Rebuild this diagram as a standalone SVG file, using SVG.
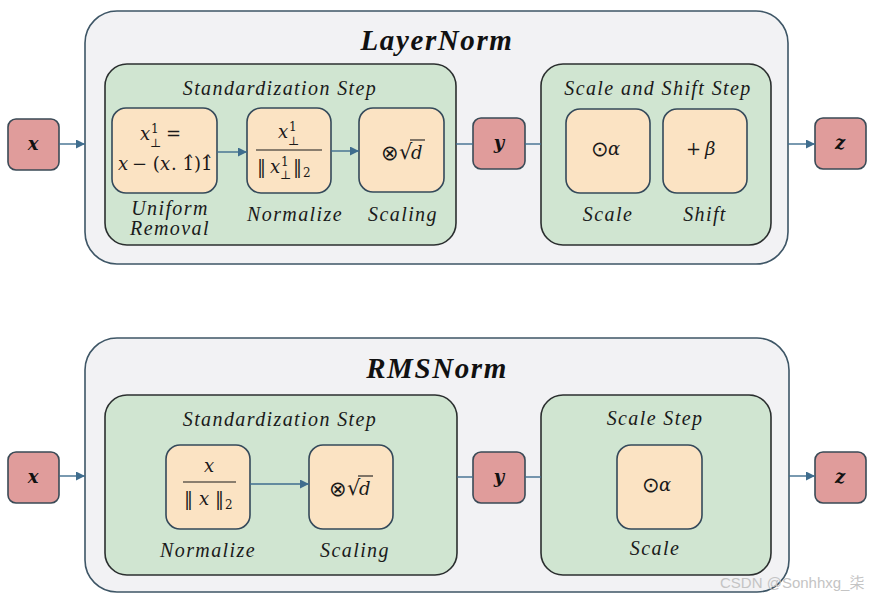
<svg xmlns="http://www.w3.org/2000/svg" width="875" height="599" viewBox="0 0 875 599">
<defs>
<style>
.outer{fill:#f2f2f4;stroke:#3e5666;stroke-width:1.6}
.step{fill:#d0e5d1;stroke:#2b2f2f;stroke-width:1.6}
.op{fill:#fbe3c3;stroke:#34495a;stroke-width:1.6}
.io{fill:#e09c9b;stroke:#3a4a56;stroke-width:1.6}
.conn{stroke:#3f6d8e;stroke-width:1.4;fill:none}
.title{font-family:"Liberation Serif","DejaVu Serif",serif;font-style:italic;font-weight:bold;font-size:29px;fill:#111;text-anchor:middle;letter-spacing:1.6px}
.lbl{font-family:"Liberation Serif","DejaVu Serif",serif;font-style:italic;font-size:20px;fill:#1a1a1a;text-anchor:middle;letter-spacing:1.4px}
.m{font-family:"DejaVu Serif","Liberation Serif",serif;font-size:18px;fill:#1a1a1a}
.mi{font-family:"DejaVu Serif","Liberation Serif",serif;font-style:italic;font-size:18px;fill:#1a1a1a}
.sym{font-family:"DejaVu Sans",sans-serif;font-size:21px;fill:#1a1a1a}
.s{font-family:"DejaVu Serif","Liberation Serif",serif;font-size:12px;fill:#1a1a1a}
.iov{font-family:"DejaVu Serif","Liberation Serif",serif;font-style:italic;font-weight:bold;font-size:18px;fill:#111;text-anchor:middle}
.fl{stroke:#1a1a1a;stroke-width:1.1}
.wm{font-family:"Liberation Sans","Noto Sans CJK SC",sans-serif;font-size:15px;fill:#c4c4c4}
</style>
<marker id="arr" viewBox="0 0 10 10" refX="10" refY="5" markerWidth="9" markerHeight="9" markerUnits="userSpaceOnUse" orient="auto">
<path d="M0,0 L10,5 L0,10 z" fill="#3f6d8e"/>
</marker>
</defs>

<!-- ===== LayerNorm ===== -->
<g id="layernorm">
<rect class="outer" x="85" y="11" width="703" height="253" rx="32"/>
<text class="title" x="437" y="50">LayerNorm</text>
</g>
<g id="ln-std">
<rect class="step" x="105" y="64" width="351" height="181" rx="22"/>
<text class="lbl" x="280" y="95">Standardization Step</text>
</g>
<g id="ln-uniform">
<rect class="op" x="112" y="108" width="105" height="85" rx="14"/>
<text class="mi" x="140" y="140">x</text>
<text class="s" x="151" y="133">1</text>
<text class="s" x="150" y="147">⊥</text>
<text class="m" x="166" y="140">=</text>
<text class="mi" x="118" y="170">x</text>
<text class="m" x="132" y="170">− (</text>
<text class="mi" x="160" y="170">x</text>
<text class="m" x="171" y="170">. 1̂)1̂</text>
<text class="lbl" x="170" y="215">Uniform</text>
<text class="lbl" x="170" y="235">Removal</text>
</g>
<g id="ln-normalize">
<rect class="op" x="247" y="108" width="84" height="85" rx="14"/>
<text class="mi" x="278" y="138">x</text>
<text class="s" x="289" y="131">1</text>
<text class="s" x="288" y="145">⊥</text>
<line class="fl" x1="256" y1="150" x2="322" y2="150"/>
<text class="m" x="257" y="173">‖</text>
<text class="mi" x="270" y="173">x</text>
<text class="s" x="281" y="166">1</text>
<text class="s" x="280" y="179">⊥</text>
<text class="m" x="293" y="173">‖</text>
<text class="s" x="303" y="177">2</text>
<text class="lbl" x="295" y="221">Normalize</text>
</g>
<g id="ln-scaling">
<rect class="op" x="359" y="108" width="85" height="84" rx="14"/>
<text class="sym" x="381" y="160">⊗</text>
<text class="sym" x="399" y="159">√</text>
<text class="mi" x="411" y="159">d</text>
<line class="fl" x1="410" y1="140" x2="425" y2="140"/>
<text class="lbl" x="403" y="221">Scaling</text>
</g>
<g id="ln-scaleshift">
<rect class="step" x="541" y="64" width="230" height="181" rx="22"/>
<text class="lbl" x="658" y="95">Scale and Shift Step</text>
</g>
<g id="ln-scale">
<rect class="op" x="566" y="109" width="84" height="84" rx="14"/>
<text class="sym" x="591" y="156">⊙</text>
<text class="mi" x="608" y="155">α</text>
<text class="lbl" x="608" y="221">Scale</text>
</g>
<g id="ln-shift">
<rect class="op" x="663" y="109" width="84" height="84" rx="14"/>
<text class="m" x="686" y="155">+</text>
<text class="mi" x="705" y="155">β</text>
<text class="lbl" x="705" y="221">Shift</text>
</g>
<g id="ln-x">
<rect class="io" x="8" y="119" width="51" height="51" rx="8"/>
<text class="iov" x="33" y="150">x</text>
</g>
<g id="ln-y">
<rect class="io" x="473" y="118" width="52" height="51" rx="8"/>
<text class="iov" x="499" y="149">y</text>
</g>
<g id="ln-z">
<rect class="io" x="815" y="118" width="51" height="51" rx="8"/>
<text class="iov" x="840" y="149">z</text>
</g>

<!-- ===== RMSNorm ===== -->
<g id="rmsnorm">
<rect class="outer" x="85" y="338" width="704" height="254" rx="32"/>
<text class="title" x="437" y="378">RMSNorm</text>
</g>
<g id="rms-std">
<rect class="step" x="105" y="395" width="352" height="180" rx="22"/>
<text class="lbl" x="280" y="426">Standardization Step</text>
</g>
<g id="rms-normalize">
<rect class="op" x="166" y="445" width="84" height="84" rx="14"/>
<text class="mi" x="209" y="472" text-anchor="middle">x</text>
<line class="fl" x1="183" y1="482" x2="236" y2="482"/>
<text class="m" x="184" y="505">‖</text>
<text class="mi" x="199" y="505">x</text>
<text class="m" x="215" y="505">‖</text>
<text class="s" x="225" y="509">2</text>
<text class="lbl" x="208" y="557">Normalize</text>
</g>
<g id="rms-scaling">
<rect class="op" x="309" y="445" width="84" height="84" rx="14"/>
<text class="sym" x="329" y="496">⊗</text>
<text class="sym" x="347" y="495">√</text>
<text class="mi" x="359" y="495">d</text>
<line class="fl" x1="358" y1="476" x2="373" y2="476"/>
<text class="lbl" x="355" y="557">Scaling</text>
</g>
<g id="rms-scalestep">
<rect class="step" x="541" y="395" width="230" height="180" rx="22"/>
<text class="lbl" x="655" y="425">Scale Step</text>
</g>
<g id="rms-scale">
<rect class="op" x="617" y="445" width="85" height="84" rx="14"/>
<text class="sym" x="642" y="492">⊙</text>
<text class="mi" x="659" y="491">α</text>
<text class="lbl" x="655" y="555">Scale</text>
</g>
<g id="rms-x">
<rect class="io" x="8" y="452" width="51" height="51" rx="8"/>
<text class="iov" x="33" y="483">x</text>
</g>
<g id="rms-y">
<rect class="io" x="473" y="452" width="52" height="51" rx="8"/>
<text class="iov" x="499" y="483">y</text>
</g>
<g id="rms-z">
<rect class="io" x="815" y="452" width="51" height="51" rx="8"/>
<text class="iov" x="840" y="483">z</text>
</g>

<!-- ===== Connectors ===== -->
<g id="connectors">
<line class="conn" x1="59" y1="144" x2="85" y2="144" marker-end="url(#arr)"/>
<line class="conn" x1="217" y1="152" x2="247" y2="152" marker-end="url(#arr)"/>
<line class="conn" x1="331" y1="151" x2="359" y2="151" marker-end="url(#arr)"/>
<line class="conn" x1="456" y1="144" x2="473" y2="144"/>
<line class="conn" x1="525" y1="144" x2="541" y2="144"/>
<line class="conn" x1="788" y1="144" x2="815" y2="144" marker-end="url(#arr)"/>

<line class="conn" x1="59" y1="476" x2="85" y2="476" marker-end="url(#arr)"/>
<line class="conn" x1="250" y1="484" x2="309" y2="484" marker-end="url(#arr)"/>
<line class="conn" x1="457" y1="477" x2="473" y2="477"/>
<line class="conn" x1="525" y1="477" x2="541" y2="477"/>
<line class="conn" x1="789" y1="476" x2="815" y2="476" marker-end="url(#arr)"/>
</g>

<text class="wm" x="720" y="588">CSDN @Sonhhxg_柒</text>
</svg>
